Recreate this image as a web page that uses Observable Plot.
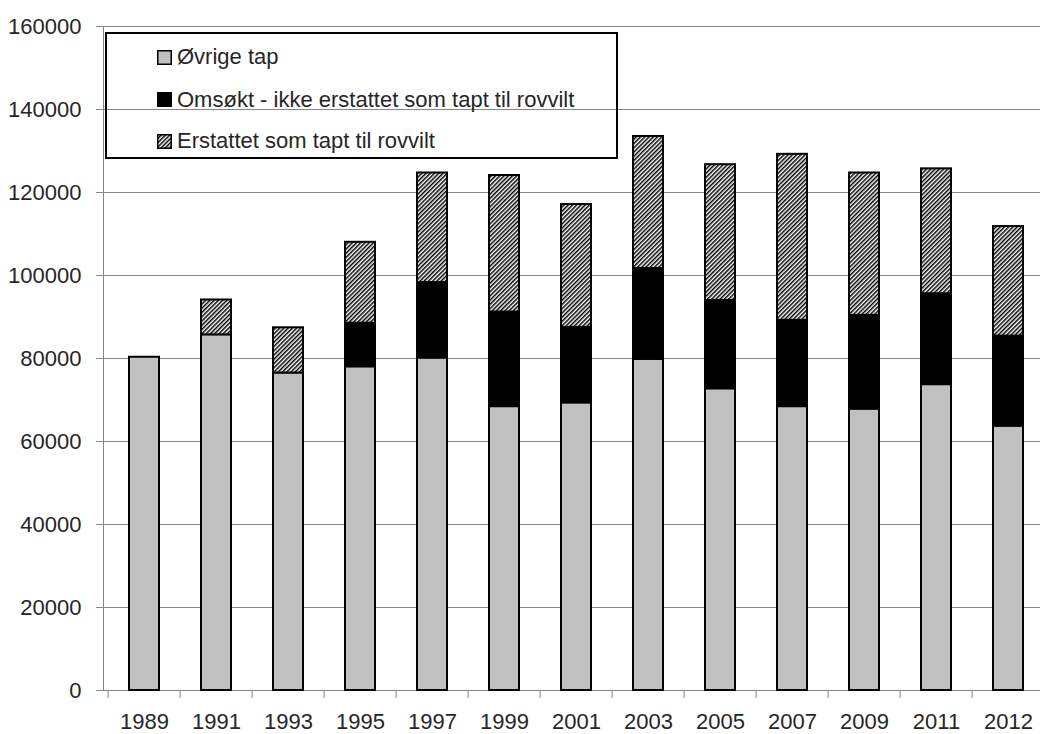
<!DOCTYPE html>
<html>
<head>
<meta charset="utf-8">
<script src="https://cdn.jsdelivr.net/npm/d3@7"></script>
<script src="https://cdn.jsdelivr.net/npm/@observablehq/plot@0.6"></script>
<style>
  html, body { margin: 0; padding: 0; overflow: hidden; background: #fff; }
  #wrap { position: relative; width: 1040px; height: 734px; font-family: "Liberation Sans", Arial, sans-serif; color: #262626; }
  #legend { position: absolute; left: 105px; top: 32px; width: 513px; height: 127px; box-sizing: border-box; border: 2px solid #000; }
  .row { position: absolute; left: 50px; height: 42px; display: flex; align-items: center; font-size: 22px; white-space: nowrap; }
  .row svg { margin-right: 5px; display: block; }
</style>
</head>
<body>
<div id="wrap"></div>
<script>
// ---- data ----
const years = ["1989","1991","1993","1995","1997","1999","2001","2003","2005","2007","2009","2011","2012"];
const seriesNames = ["Øvrige tap", "Omsøkt - ikke erstattet som tapt til rovvilt", "Erstattet som tapt til rovvilt"];
const ovrigeTap  = [80300, 85700, 76500, 78000, 80100, 68400, 69300, 79800, 72700, 68400, 67800, 73700, 63700];
const omsokt     = [0, 0, 0, 10500, 18200, 22800, 18200, 21900, 21300, 20800, 22600, 21900, 21700];
const erstattet  = [0, 8400, 10900, 19500, 26400, 32900, 29600, 31800, 32700, 40000, 34300, 30100, 26400];
const yTicks = [0, 20000, 40000, 60000, 80000, 100000, 120000, 140000, 160000];
const seriesFills = ["#c0c0c0", "#000000", "url(#hatch)"];

// long table for the stacked bars
const table = [];
years.forEach((yr, i) => {
  [ovrigeTap, omsokt, erstattet].forEach((arr, s) => {
    if (arr[i] > 0) table.push({year: yr, series: seriesNames[s], value: arr[i]});
  });
});

const xRange = [103, 1049];
const step = (xRange[1] - xRange[0]) / years.length;
const gray = "#868686";

const hatchDefs = () => {
  const defs = document.createElementNS("http://www.w3.org/2000/svg", "defs");
  defs.innerHTML = `<pattern id="hatch" patternUnits="userSpaceOnUse" width="3" height="3" patternTransform="rotate(45)">
      <rect width="3" height="3" fill="#fff"/><rect width="1.5" height="3" fill="#000"/></pattern>`;
  return defs;
};

const chart = Plot.plot({
  width: 1040,
  height: 734,
  marginTop: 26,
  marginBottom: 44,
  marginLeft: 103,
  marginRight: 0,
  style: {fontSize: "22px", fontFamily: "'Liberation Sans', Arial, sans-serif", color: "#262626", background: "#fff"},
  x: {domain: years, range: xRange, paddingInner: 0.585, paddingOuter: 0.2925, axis: null, label: null},
  y: {domain: [0, 160000], axis: null, label: null},
  color: {type: "ordinal", domain: seriesNames, range: seriesFills},
  marks: [
    hatchDefs,
    Plot.gridY(yTicks, {stroke: gray, strokeOpacity: 1, strokeWidth: 1}),
    Plot.ruleY([0], {stroke: gray, strokeWidth: 1}),
    Plot.frame({anchor: "left", stroke: gray, strokeWidth: 1}),
    Plot.ruleX(years, {x: d => d, dx: -step / 2, y1: 0, y2: 0, insetBottom: -8, stroke: gray}),
    Plot.barY(table, Plot.stackY({
      x: "year", y: "value", fill: "series", z: "series", order: seriesNames,
      stroke: "#000", strokeWidth: 2
    })),
    Plot.axisY(yTicks, {tickFormat: d => String(d), tickSize: 7, tickPadding: 15, stroke: gray, fill: "#262626", label: null}),
    Plot.axisX({tickSize: 0, tickPadding: 23, fill: "#262626", label: null})
  ]
});

const wrap = document.getElementById("wrap");
wrap.appendChild(chart);

// ---- legend ----
const legend = document.createElement("div");
legend.id = "legend";
const rowCenters = [23, 65.5, 107];
seriesNames.forEach((name, i) => {
  const row = document.createElement("div");
  row.className = "row";
  row.style.top = (rowCenters[i] - 21) + "px";
  const fill = i === 2 ? "url(#hatchL)" : seriesFills[i];
  row.innerHTML = `<svg width="15" height="15" viewBox="0 0 15 15">
    <defs><pattern id="hatchL" patternUnits="userSpaceOnUse" width="3" height="3" patternTransform="rotate(45)">
      <rect width="3" height="3" fill="#fff"/><rect width="1.5" height="3" fill="#000"/></pattern></defs>
    <rect x="0.75" y="0.75" width="13.5" height="13.5" fill="${fill}" stroke="#000" stroke-width="1.5"/></svg><span></span>`;
  row.querySelector("span").textContent = name;
  legend.appendChild(row);
});
wrap.appendChild(legend);
</script>
</body>
</html>
